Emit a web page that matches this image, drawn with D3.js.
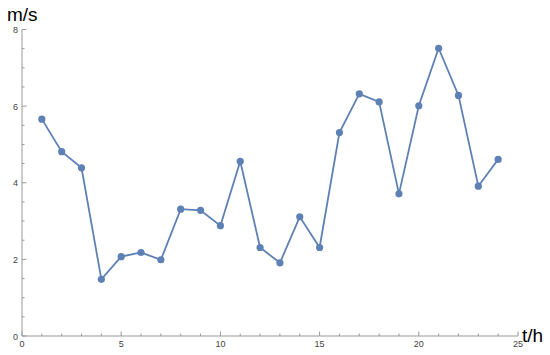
<!DOCTYPE html>
<html>
<head>
<meta charset="utf-8">
<script src="https://cdn.jsdelivr.net/npm/d3@7"></script>
<style>
  body { margin: 0; background: #fff; }
  svg { display: block; }
</style>
</head>
<body>
<svg id="chart" width="550" height="355"></svg>
<script>
// hourly speed readings
var hours = [1, 2, 3, 4, 5, 6, 7, 8, 9, 10, 11, 12, 13, 14, 15, 16, 17, 18, 19, 20, 21, 22, 23, 24];
var speeds = [5.66, 4.81, 4.39, 1.48, 2.07, 2.18, 1.99, 3.31, 3.28, 2.88, 4.56, 2.31,
              1.91, 3.11, 2.31, 5.31, 6.32, 6.11, 3.71, 6.01, 7.51, 6.28, 3.91, 4.61];
var xTicks = [0, 5, 10, 15, 20, 25];
var yTicks = [0, 2, 4, 6, 8];
var xLabel = "t/h", yLabel = "m/s";

var svg = d3.select("#chart");
var color = "#5e81b5", axisColor = "#999";

var x = d3.scaleLinear().domain([0, 25]).range([22, 518]);
var y = d3.scaleLinear().domain([0, 8]).range([336, 29.5]);

// minor ticks first
var xMinor = d3.range(0, 25.01, 1).filter(function(v) { return v % 5 != 0; });
var yMinor = d3.range(0, 8.01, 0.5).filter(function(v) { return v % 2 != 0; });

var gx = svg.append("g").attr("transform", "translate(0," + y(0) + ")");
gx.append("line").attr("x1", x(0)).attr("x2", x(25)).attr("stroke", axisColor);
gx.selectAll(".minor").data(xMinor).enter().append("line")
    .attr("x1", x).attr("x2", x).attr("y1", 0).attr("y2", -2.5)
    .attr("stroke", axisColor);
gx.selectAll(".major").data(xTicks).enter().append("line")
    .attr("x1", x).attr("x2", x).attr("y1", 0).attr("y2", -4.5)
    .attr("stroke", axisColor);
gx.selectAll("text").data(xTicks).enter().append("text")
    .attr("x", x).attr("y", 11)
    .attr("text-anchor", "middle")
    .attr("font-family", "Liberation Sans, Arial, sans-serif")
    .attr("font-size", 9).attr("fill", "#444")
    .text(function(d) { return d; });

var gy = svg.append("g").attr("transform", "translate(" + x(0) + ",0)");
gy.append("line").attr("y1", y(0)).attr("y2", y(8)).attr("stroke", axisColor);
gy.selectAll(".minor").data(yMinor).enter().append("line")
    .attr("y1", y).attr("y2", y).attr("x1", 0).attr("x2", 2.5)
    .attr("stroke", axisColor);
gy.selectAll(".major").data(yTicks).enter().append("line")
    .attr("y1", y).attr("y2", y).attr("x1", 0).attr("x2", 4.5)
    .attr("stroke", axisColor);
gy.selectAll("text").data(yTicks).enter().append("text")
    .attr("x", -4).attr("y", function(d) { return y(d) + 3.5; })
    .attr("text-anchor", "end")
    .attr("font-family", "Liberation Sans, Arial, sans-serif")
    .attr("font-size", 9).attr("fill", "#444")
    .text(function(d) { return d; });

// axis titles
svg.append("text").attr("x", 7).attr("y", 21)
    .attr("font-family", "Liberation Sans, Arial, sans-serif")
    .attr("font-size", 19).text(yLabel);
svg.append("text").attr("x", 522).attr("y", 342)
    .attr("font-family", "Liberation Sans, Arial, sans-serif")
    .attr("font-size", 19).text(xLabel);

var pts = hours.map(function(h, i) { return [h, speeds[i]]; });

var line = d3.line()
    .x(function(d) { return x(d[0]); })
    .y(function(d) { return y(d[1]); });

svg.append("path").datum(pts)
    .attr("d", line)
    .attr("fill", "none")
    .attr("stroke", color)
    .attr("stroke-width", 1.8);

svg.selectAll(".dot").data(pts).enter().append("circle")
    .attr("cx", function(d) { return x(d[0]); })
    .attr("cy", function(d) { return y(d[1]); })
    .attr("r", 3.6)
    .attr("fill", color);
</script>
</body>
</html>
